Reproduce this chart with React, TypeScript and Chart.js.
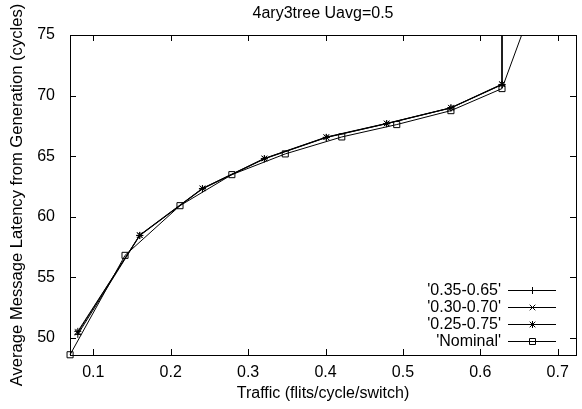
import React, { useEffect, useRef } from 'react';
import { Chart, registerables } from 'chart.js';

Chart.register(...registerables);

const TITLE = '4ary3tree Uavg=0.5';
const X_TITLE = 'Traffic (flits/cycle/switch)';
const Y_TITLE = 'Average Message Latency from Generation (cycles)';

const X_TICKS = [0.1, 0.2, 0.3, 0.4, 0.5, 0.6, 0.7];
const Y_TICKS = [50, 55, 60, 65, 70, 75];

const LABELS = ["'0.35-0.65'", "'0.30-0.70'", "'0.25-0.75'", "'Nominal'"];
const MARKERS = ['plus', 'x', 'star', 'square'];

// varied-range series share the same offered traffic points
const X_VAR = [0.080, 0.160, 0.241, 0.321, 0.401, 0.479, 0.562, 0.628, 0.628];
const Y_035 = [50.30, 58.45, 62.30, 64.78, 66.54, 67.68, 68.98, 70.90, 200];
const Y_030 = [50.45, 58.50, 62.35, 64.82, 66.58, 67.71, 69.00, 70.95, 200];
const Y_025 = [50.55, 58.47, 62.33, 64.80, 66.56, 67.69, 68.99, 70.92, 200];

const X_NOM = [0.070, 0.141, 0.212, 0.279, 0.348, 0.421, 0.492, 0.562, 0.628, 0.700];
const Y_NOM = [48.62, 56.82, 60.92, 63.48, 65.19, 66.59, 67.61, 68.76, 70.58, 83.1];

const FONT = '"Liberation Sans", Arial, Helvetica, sans-serif';
const FONT_SIZE = 16;

function toPts(xs: number[], ys: number[]) {
  return xs.map((x, i) => ({ x, y: ys[i] }));
}

function drawMarker(ctx: CanvasRenderingContext2D, kind: string, x: number, y: number) {
  ctx.beginPath();
  if (kind === 'plus' || kind === 'star') {
    ctx.moveTo(x - 3.5, y); ctx.lineTo(x + 3.5, y);
    ctx.moveTo(x, y - 3.5); ctx.lineTo(x, y + 3.5);
  }
  if (kind === 'x' || kind === 'star') {
    ctx.moveTo(x - 2.8, y - 2.8); ctx.lineTo(x + 2.8, y + 2.8);
    ctx.moveTo(x - 2.8, y + 2.8); ctx.lineTo(x + 2.8, y - 2.8);
  }
  if (kind === 'square') {
    ctx.rect(x - 3, y - 3, 6, 6);
  }
  ctx.stroke();
}

const decorPlugin = {
  id: 'gnuplotDecor',
  afterDatasetsDraw(chart: any) {
    const { ctx, chartArea: a, scales } = chart;
    ctx.save();
    ctx.strokeStyle = '#000';
    ctx.fillStyle = '#000';
    ctx.lineWidth = 1;
    // border
    ctx.strokeRect(a.left + 0.5, a.top + 0.5, a.right - a.left, a.bottom - a.top);
    // inward ticks on all sides
    const tl = 6;
    ctx.beginPath();
    X_TICKS.forEach((v) => {
      const px = Math.round(scales.x.getPixelForValue(v)) + 0.5;
      ctx.moveTo(px, a.bottom); ctx.lineTo(px, a.bottom - tl);
      ctx.moveTo(px, a.top); ctx.lineTo(px, a.top + tl);
    });
    Y_TICKS.forEach((v) => {
      const py = Math.round(scales.y.getPixelForValue(v)) + 0.5;
      ctx.moveTo(a.left, py); ctx.lineTo(a.left + tl, py);
      ctx.moveTo(a.right, py); ctx.lineTo(a.right - tl, py);
    });
    ctx.stroke();
    // title
    ctx.font = `${FONT_SIZE}px ${FONT}`;
    ctx.textAlign = 'center';
    ctx.textBaseline = 'middle';
    ctx.fillText(TITLE, (a.left + a.right) / 2, 14);
    // legend (gnuplot style: text, then line sample with marker)
    ctx.textAlign = 'right';
    LABELS.forEach((lab, i) => {
      const y = a.bottom - 65 + i * 17;
      ctx.fillText(lab, a.right - 75, y + 1);
      ctx.beginPath();
      ctx.moveTo(a.right - 68, y + 0.5);
      ctx.lineTo(a.right - 20, y + 0.5);
      ctx.stroke();
      drawMarker(ctx, MARKERS[i], a.right - 43.5, y + 0.5);
    });
    ctx.restore();
  },
};

export default function App() {
  const ref = useRef<HTMLCanvasElement>(null);
  useEffect(() => {
    if (!ref.current) return;
    const font = { family: FONT, size: FONT_SIZE };
    const base = {
      borderColor: '#000',
      borderWidth: 1,
      pointBorderColor: '#000',
      pointBackgroundColor: 'rgba(0,0,0,0)',
      pointBorderWidth: 1,
      showLine: true,
      tension: 0,
      clip: { left: 8, bottom: 8, top: 0, right: 0 },
    };
    const chart = new Chart(ref.current, {
      type: 'scatter',
      data: {
        datasets: [
          { ...base, label: LABELS[0], data: toPts(X_VAR, Y_035), pointStyle: 'cross', pointRadius: 3.5 },
          { ...base, label: LABELS[1], data: toPts(X_VAR, Y_030), pointStyle: 'crossRot', pointRadius: 4 },
          { ...base, label: LABELS[2], data: toPts(X_VAR, Y_025), pointStyle: 'star', pointRadius: 3.5 },
          { ...base, label: LABELS[3], data: toPts(X_NOM, Y_NOM), pointStyle: 'rect', pointRadius: 4.3 },
        ],
      },
      options: {
        animation: false,
        responsive: true,
        maintainAspectRatio: false,
        layout: { padding: { top: 35, right: 6, left: 0, bottom: 0 } },
        plugins: { legend: { display: false }, tooltip: { enabled: false }, title: { display: false } },
        scales: {
          x: {
            type: 'linear',
            min: 0.0699,
            max: 0.7236,
            border: { display: false },
            grid: { display: false, drawTicks: false },
            ticks: { font, color: '#000', padding: 8, maxRotation: 0, callback: (v: any) => String(v) },
            afterBuildTicks: (s: any) => { s.ticks = X_TICKS.map((v) => ({ value: v })); },
            afterFit: (s: any) => { s.height = 54; },
            title: { display: true, text: X_TITLE, font, color: '#000', padding: { top: 0, bottom: 5.4 } },
          },
          y: {
            type: 'linear',
            min: 48.6,
            max: 75,
            border: { display: false },
            grid: { display: false, drawTicks: false },
            ticks: { font, color: '#000', padding: 15, callback: (v: any) => String(v) },
            afterBuildTicks: (s: any) => { s.ticks = Y_TICKS.map((v) => ({ value: v })); },
            afterFit: (s: any) => { s.width = 70; },
            title: { display: true, text: Y_TITLE, font: { family: FONT, size: 16.6 }, color: '#000', padding: { top: 7, bottom: 0 } },
          },
        },
      },
      plugins: [decorPlugin],
    });
    return () => chart.destroy();
  }, []);
  return (
    <div style={{ position: 'absolute', left: 0, top: 0, width: 582, height: 409, background: '#fff' }}>
      <canvas ref={ref} />
    </div>
  );
}
